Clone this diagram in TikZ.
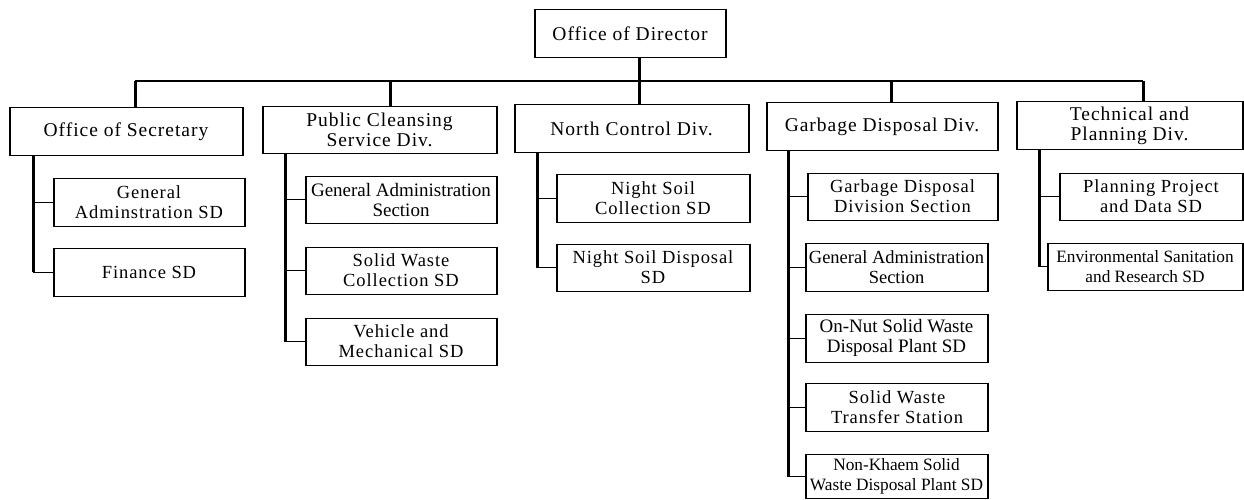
\documentclass[tikz,border=0pt]{standalone}
\usepackage{fontspec}
\setmainfont{Liberation Serif}
\newfontfamily\spacedserif[LetterSpace=5]{Liberation Serif}
\begin{document}
\begin{tikzpicture}[x=1pt,y=-1pt,
  box/.style={draw, line width=1pt, inner sep=1pt, align=center,
    font=\spacedserif\fontsize{18.5}{20}\selectfont},
  big/.style={font=\spacedserif\fontsize{19.5}{20}\selectfont},
  tight/.style={font=\fontsize{19}{20}\selectfont},
  narrow/.style={font=\fontsize{18.5}{20}\selectfont},
  small/.style={font=\fontsize{17.3}{19.5}\selectfont},
  stem/.style={line width=3pt},
  tick/.style={line width=1pt},
  bus/.style={line width=1.6pt}]
\useasboundingbox (0,0) rectangle (1244,500);

% top of the organisation
\node[box, big, minimum width=190, minimum height=48] (dir) at (630,34) {Office of Director};

% divisions
\node[box, big, minimum width=232, minimum height=47] (sec) at (126,131.5) {Office of Secretary};
\node[box, big, minimum width=233, minimum height=46] (pcs) at (379.5,130) {Public Cleansing\\Service Div.};
\node[box, big, minimum width=233, minimum height=47] (ncd) at (631.5,128.5) {North Control Div.};
\node[box, big, minimum width=230, minimum height=47] (gdd) at (882,126.5) {Garbage Disposal Div.};
\node[box, big, minimum width=225, minimum height=47] (tpd) at (1129.5,125.5) {Technical and\\Planning Div.};

% Office of Secretary
\node[box, minimum width=190, minimum height=48] (gas1) at (149,202) {General\\Adminstration SD};
\node[box, minimum width=190, minimum height=48] (fin) at (149,272) {Finance SD};

% Public Cleansing Service Div.
\node[box, tight, minimum width=190, minimum height=47] (gas2) at (401,199.5) {General Administration\\Section};
\node[box, minimum width=190, minimum height=47] (swc) at (401,270.5) {Solid Waste\\Collection SD};
\node[box, minimum width=190, minimum height=47] (vms) at (401,341.5) {Vehicle and\\Mechanical SD};

% North Control Div.
\node[box, minimum width=192, minimum height=48] (nsc) at (653,198) {Night Soil\\Collection SD};
\node[box, minimum width=192, minimum height=47] (nsd) at (653,267.5) {Night Soil Disposal\\SD};

% Garbage Disposal Div.
\node[box, minimum width=189, minimum height=47] (gds) at (902.5,196.5) {Garbage Disposal\\Division Section};
\node[box, narrow, minimum width=181, minimum height=48] (gas3) at (896.5,267) {General Administration\\Section};
\node[box, tight, minimum width=181, minimum height=48] (onn) at (896.5,338) {On-Nut Solid Waste\\Disposal Plant SD};
\node[box, minimum width=181, minimum height=48] (swt) at (897,407) {Solid Waste\\Transfer Station};
\node[box, small, minimum width=181, minimum height=44] (nkm) at (896.5,476.5) {Non-Khaem Solid\\Waste Disposal Plant SD};

% Technical and Planning Div.
\node[box, minimum width=182, minimum height=47] (ppd) at (1151,196.5) {Planning Project\\and Data SD};
\node[box, small, minimum width=194, minimum height=47] (env) at (1145,266.5) {Environmental Sanitation\\and Research SD};

% heavier side rules of every box
\foreach \n in {dir,sec,pcs,ncd,gdd,tpd,gas1,fin,gas2,swc,vms,nsc,nsd,gds,gas3,onn,swt,nkm,ppd,env}
  \draw[line width=2pt] (\n.north west) -- (\n.south west) (\n.north east) -- (\n.south east);

% bus from the director to the divisions
\coordinate (d1) at (135,81);
\coordinate (d2) at (390,81);
\coordinate (d3) at (639,81);
\coordinate (d4) at (891,81);
\coordinate (d5) at (1143,81);
\draw[bus] (d1) -- (d5);
\draw[stem] (d3 |- dir.south) -- (d3);
\draw[stem] (d1) -- (d1 |- sec.north);
\draw[stem] (d2) -- (d2 |- pcs.north);
\draw[stem] (d3) -- (d3 |- ncd.north);
\draw[stem] (d4) -- (d4 |- gdd.north);
\draw[stem] (d5) -- (d5 |- tpd.north);

% section stems
\coordinate (s1) at (33,0);
\coordinate (s2) at (285,0);
\coordinate (s3) at (537,0);
\coordinate (s4) at (788,0);
\coordinate (s5) at (1039,0);

\draw[stem] (s1 |- sec.south) -- (s1 |- fin.west);
\foreach \c in {gas1,fin} \draw[tick] (s1 |- \c.west) -- (\c.west);

\draw[stem] (s2 |- pcs.south) -- (s2 |- vms.west);
\foreach \c in {gas2,swc,vms} \draw[tick] (s2 |- \c.west) -- (\c.west);

\draw[stem] (s3 |- ncd.south) -- (s3 |- nsd.west);
\foreach \c in {nsc,nsd} \draw[tick] (s3 |- \c.west) -- (\c.west);

\draw[stem] (s4 |- gdd.south) -- (s4 |- nkm.west);
\foreach \c in {gds,gas3,onn,swt,nkm} \draw[tick] (s4 |- \c.west) -- (\c.west);

\draw[stem] (s5 |- tpd.south) -- (s5 |- env.west);
\foreach \c in {ppd,env} \draw[tick] (s5 |- \c.west) -- (\c.west);
\end{tikzpicture}
\end{document}
